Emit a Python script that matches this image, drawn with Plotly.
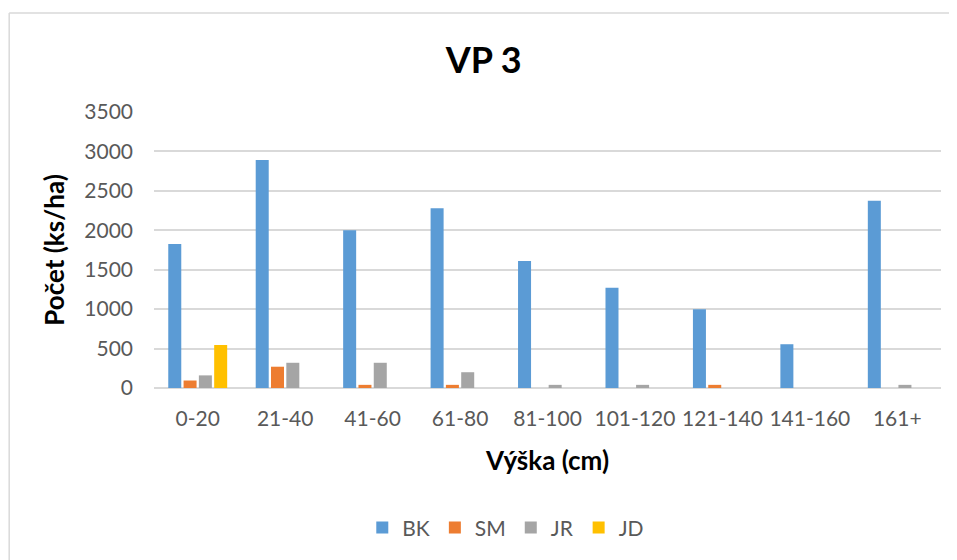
import plotly.graph_objects as go

categories = ["0-20", "21-40", "41-60", "61-80", "81-100", "101-120", "121-140", "141-160", "161+"]
bk = [1825, 2890, 2000, 2280, 1610, 1270, 1000, 555, 2375]
sm = [95, 270, 40, 40, 0, 0, 40, 0, 0]
jr = [160, 320, 320, 200, 40, 40, 0, 0, 40]
jd = [545, 0, 0, 0, 0, 0, 0, 0, 0]
y_ticks = [0, 500, 1000, 1500, 2000, 2500, 3000, 3500]

FONT = "Lato, Carlito, Calibri, 'Open Sans', sans-serif"

fig = go.Figure()
for name, vals, col in [("BK", bk, "#5B9BD5"), ("SM", sm, "#ED7D31"),
                        ("JR", jr, "#A5A5A5"), ("JD", jd, "#FFC000")]:
    fig.add_trace(go.Bar(name=name, x=categories, y=vals, marker_color=col,
                         marker_line_width=0))

# the page body has an 8px margin, so the figure is offset by (8, 8)
fig.update_layout(
    width=957, height=560,
    margin=dict(l=146, r=24, t=104, b=180),
    paper_bgcolor="white", plot_bgcolor="white",
    barmode="group", bargap=0.30, bargroupgap=0.15,
    font=dict(family=FONT, color="#595959", size=21),
    title=dict(text="<b>VP 3</b>", x=0.497, xanchor="center", y=1 - 52 / 560, yanchor="middle",
               font=dict(family=FONT, size=36, color="#000000")),
    legend=dict(orientation="h", x=0.447, xanchor="center", y=-0.507, yanchor="middle",
                font=dict(family=FONT, size=21, color="#595959"), itemwidth=30,
                traceorder="normal"),
    xaxis=dict(showgrid=False, showline=False, ticks="", automargin=False,
               ticklabelstandoff=16, tickfont=dict(size=21, color="#595959"),
               title=dict(text="<b>Výška (cm)</b>", font=dict(family=FONT, size=26, color="#000000"),
                          standoff=22)),
    yaxis=dict(range=[0, 3500], tickvals=y_ticks, showgrid=True, gridcolor="#D9D9D9", gridwidth=1.5,
               zeroline=True, zerolinecolor="#D9D9D9", zerolinewidth=1.5, showline=False,
               ticks="", automargin=False, ticklabelstandoff=20, tickfont=dict(size=21, color="#595959"),
               title=dict(text="<b>Počet (ks/ha)</b>", font=dict(family=FONT, size=26, color="#000000"),
                          standoff=12)),
)

# chart-area frame: only the top and left edges are visible in the window
frame = dict(color="#D9D9D9", width=1.5)
fig.add_shape(type="line", xref="paper", yref="paper", x0=-0.184, x1=1.1, y0=1.359, y1=1.359,
              line=frame, layer="below")
fig.add_shape(type="line", xref="paper", yref="paper", x0=-0.184, x1=-0.184, y0=-0.8, y1=1.359,
              line=frame, layer="below")

fig.write_html("out.html", config={"displayModeBar": False})
